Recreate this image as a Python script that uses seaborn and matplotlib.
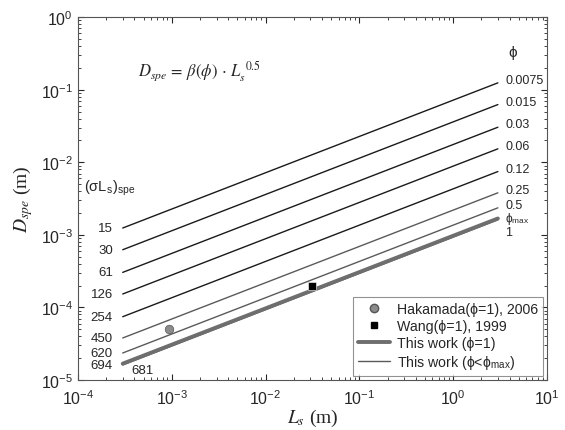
import numpy as np
import pandas as pd
import seaborn as sns
import matplotlib.pyplot as plt
from matplotlib.lines import Line2D

# values
phi_labels = ['0.0075', '0.015', '0.03', '0.06', '0.12', '0.25', '0.5']
sigma_labels = ['15', '30', '61', '126', '254', '450', '620', '694']
# beta(phi) for phi = 0.0075 ... 0.5, phi_max
beta_vals = [0.0717, 0.0360, 0.01755, 0.00884, 0.0043, 0.00219, 0.00136, 0.00093]
beta_phi1 = 0.00097
sigma_phi1 = '681'
L_range = [3e-4, 3.0]
hakamada_L = [9.3e-4]
hakamada_D = [5.0e-5]
wang_L = [0.0314]
wang_D = [1.99e-4]

sns.set_style('ticks')
plt.rcParams['font.family'] = ['Liberation Sans', 'DejaVu Sans']
plt.rcParams['mathtext.fontset'] = 'stix'

# build the lines D = beta * L^0.5
L = np.logspace(np.log10(L_range[0]), np.log10(L_range[1]), 30)
rows = []
for i, b in enumerate(beta_vals):
    for l in L:
        rows.append({'curve': i, 'L': l, 'D': b * l ** 0.5})
df = pd.DataFrame(rows)
df_one = pd.DataFrame({'L': L, 'D': beta_phi1 * L ** 0.5})

line_cols = {i: ('#1a1a1a' if i < 5 else '#5a5a5a') for i in range(len(beta_vals))}

fig = plt.figure(figsize=(5.65, 4.31), dpi=100)
ax = fig.add_axes([0.138, 0.116, 0.83, 0.842])

sns.lineplot(data=df, x='L', y='D', hue='curve', units='curve', estimator=None,
             palette=line_cols, linewidth=1.0, legend=False, ax=ax)
sns.lineplot(data=df_one, x='L', y='D', color='#6e6e6e', linewidth=2.8, ax=ax)
sns.scatterplot(x=hakamada_L, y=hakamada_D, color='#8c8c8c', edgecolor='#555555',
                s=38, marker='o', ax=ax, zorder=5)
sns.scatterplot(x=wang_L, y=wang_D, color='black', s=26, marker='s', ax=ax, zorder=5)

ax.set_xscale('log')
ax.set_yscale('log')
ax.set_xlim(1e-4, 1e1)
ax.set_ylim(1e-5, 1e0)

ax.tick_params(which='both', direction='in', top=True, right=True, labelsize=11.5)
ax.tick_params(axis='x', pad=6)
ax.tick_params(which='major', length=4)
ax.tick_params(which='minor', length=2)
for s in ax.spines.values():
    s.set_color('#555555')
    s.set_linewidth(0.8)

ax.set_xlabel(r'$L_s$ (m)', fontsize=14, family='Liberation Serif', labelpad=0)
ax.set_ylabel(r'$D_{spe}$ (m)', fontsize=14, family='Liberation Serif', labelpad=4)

# labels at the right end of the lines
for lab, b in zip(phi_labels, beta_vals):
    ax.annotate(lab, (3.6, b * L_range[1] ** 0.5), xytext=(0, 2), textcoords='offset points',
                fontsize=9, va='center', ha='left')
ymax_end = beta_vals[-1] * L_range[1] ** 0.5
ax.annotate(r'ϕ$_\mathregular{max}$', (3.6, ymax_end), xytext=(0, 1.5), textcoords='offset points',
            fontsize=8.5, va='center', ha='left')
ax.annotate('1', (3.6, ymax_end), xytext=(0, -4.5), textcoords='offset points',
            fontsize=9, va='top', ha='left')
ax.text(4.3, 0.33, 'ϕ', fontsize=11, ha='center', va='center')

# labels at the left end of the lines
for lab, b in zip(sigma_labels, beta_vals):
    ax.text(2.35e-4, b * L_range[0] ** 0.5, lab, fontsize=9.5, va='center', ha='right')
ax.text(4.9e-4, 1.39e-5, sigma_phi1, fontsize=9.5, va='center', ha='center')
ax.text(1.15e-4, 4.5e-3, r'(σL$_\mathregular{s}$)$_\mathregular{spe}$', fontsize=10.5,
        va='center', ha='left')

ax.text(0.26, 0.851, r'$D_{spe}\,=\,\beta(\phi)\,\cdot\,L_s^{\;\,0.5}$', transform=ax.transAxes,
        fontsize=12, ha='center', va='center')

handles = [
    Line2D([], [], marker='o', color='none', markerfacecolor='#8c8c8c',
           markeredgecolor='#555555', markersize=6),
    Line2D([], [], marker='s', color='none', markerfacecolor='black',
           markeredgecolor='black', markersize=4.5),
    Line2D([], [], color='#6e6e6e', linewidth=2.8),
    Line2D([], [], color='#5a5a5a', linewidth=1.0),
]
labels = ['Hakamada(ϕ=1), 2006', 'Wang(ϕ=1), 1999', 'This work (ϕ=1)',
          r'This work (ϕ<ϕ$_\mathregular{max}$)']
leg = ax.legend(handles, labels, loc='lower right', fontsize=10.2, frameon=True,
                fancybox=False, borderaxespad=0.3, handlelength=2.2,
                labelspacing=0.2, borderpad=0.35, handletextpad=0.5)
leg.get_frame().set_edgecolor('#777777')
leg.get_frame().set_linewidth(0.8)

fig.savefig('out.png', dpi=100)
